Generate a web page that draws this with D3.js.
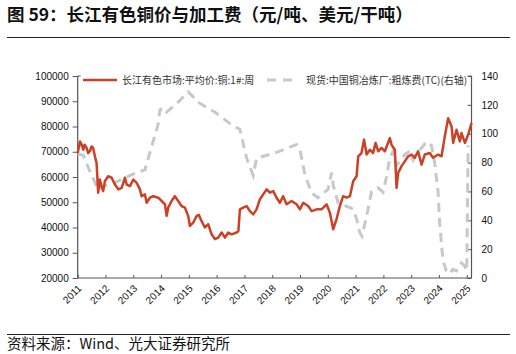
<!DOCTYPE html>
<html>
<head>
<meta charset="utf-8">
<script src="https://cdn.jsdelivr.net/npm/d3@7"></script>
<style>
  html, body { margin: 0; padding: 0; background: #fff; }
  svg { display: block; }
  text { font-family: "Liberation Sans", Arial, "Noto Sans CJK SC", sans-serif; }
  .cjk { font-family: "Noto Sans CJK SC", sans-serif; }
</style>
</head>
<body>
<svg id="chart" width="516" height="354"></svg>
<script>
// ---------- data ----------
const titleText = "图 59：长江有色铜价与加工费（元/吨、美元/干吨）";
const sourceText = "资料来源：Wind、光大证券研究所";
const seriesNames = ["长江有色市场:平均价:铜:1#:周", "现货:中国铜冶炼厂:粗炼费(TC)(右轴)"];
const yearTicks = ["2011","2012","2013","2014","2015","2016","2017","2018","2019","2020","2021","2022","2023","2024","2025"];
const leftTicks = [20000, 30000, 40000, 50000, 60000, 70000, 80000, 90000, 100000];
const rightTicks = [0, 20, 40, 60, 80, 100, 120, 140];

const copperDates = [
"2011-01-01","2011-01-31","2011-02-22","2011-03-15","2011-04-02","2011-04-28","2011-05-19","2011-06-10","2011-07-02","2011-07-23",
"2011-08-15","2011-09-06","2011-09-27","2011-10-19","2011-11-10","2011-12-02","2011-12-24","2012-02-06","2012-03-22","2012-05-05",
"2012-06-17","2012-08-01","2012-09-13","2012-10-06","2012-11-18","2013-01-01","2013-02-14","2013-03-29","2013-04-20","2013-06-03",
"2013-06-25","2013-08-08","2013-09-20","2013-11-25","2014-01-08","2014-02-21","2014-03-15","2014-04-05","2014-05-19","2014-07-01",
"2014-08-14","2014-09-27","2014-11-09","2014-12-23","2015-01-15","2015-02-27","2015-04-12","2015-05-12","2015-06-16","2015-07-30",
"2015-09-12","2015-10-27","2015-12-09","2016-01-22","2016-03-07","2016-04-20","2016-06-02","2016-07-16","2016-09-20","2016-10-13",
"2016-11-02","2016-12-15","2017-01-29","2017-03-13","2017-04-26","2017-06-09","2017-07-22","2017-09-04","2017-10-19","2017-12-01",
"2018-01-14","2018-02-27","2018-04-11","2018-05-24","2018-07-08","2018-09-12","2018-11-17","2018-12-31","2019-02-12","2019-04-18",
"2019-06-02","2019-08-07","2019-10-11","2019-12-16","2020-01-28","2020-03-12","2020-04-25","2020-06-08","2020-07-21","2020-09-04",
"2020-10-18","2020-11-30","2021-01-14","2021-02-04","2021-03-19","2021-04-22","2021-05-25","2021-07-07","2021-08-19","2021-09-20",
"2021-10-24","2021-12-08","2022-01-20","2022-03-26","2022-04-17","2022-05-31","2022-06-23","2022-07-14","2022-08-27","2022-10-09",
"2022-11-22","2023-01-06","2023-02-18","2023-04-02","2023-05-17","2023-06-29","2023-09-03","2023-10-16","2023-12-21","2024-02-04",
"2024-03-18","2024-05-01","2024-06-15","2024-07-06","2024-08-19","2024-10-02","2024-10-24","2024-12-07","2025-01-19","2025-03-04"];
const copperValues = [
69500,74100,72800,70800,72800,71500,69500,70200,72100,71500,
68200,65600,53800,59000,56400,54400,58300,60300,59700,57000,
55100,55700,59700,57000,56400,59000,57700,55100,52400,53100,
49800,51800,52400,51800,50500,49200,44600,47900,50500,52400,
50500,48500,47900,44600,40600,41900,44500,45000,42600,40000,
41300,37300,35400,36000,38000,36000,38000,37300,38000,38500,
47200,47900,48500,46500,45200,47200,51100,53100,55100,53800,
54400,51800,49800,52400,49200,50500,49200,47200,49800,48500,
46500,47200,47200,49200,45900,39300,43300,48500,52400,51800,
52400,58300,60300,68200,69500,74800,68900,70800,69500,73500,
70200,71500,70200,75400,72800,70800,55700,61600,64300,66200,
68200,68900,67600,70200,64900,68900,69500,67600,68900,68200,
76100,83300,80000,73500,78700,74100,77400,73500,76700,81400];

const tcDates = [
"2011-01-01","2011-03-15","2011-06-10","2011-09-27","2011-11-28","2012-04-08","2012-12-28","2013-06-03","2013-08-29","2013-11-21",
"2013-12-17","2014-01-26","2014-03-14","2014-07-27","2014-12-23","2015-05-26","2015-12-08","2016-06-25","2016-11-02","2017-01-30",
"2017-04-26","2017-06-09","2018-02-06","2018-11-17","2018-12-31","2019-03-07","2019-06-02","2019-08-26","2019-10-11","2020-01-04",
"2020-02-21","2020-03-14","2020-05-16","2020-10-19","2020-11-30","2021-01-14","2021-02-24","2021-03-24","2021-05-26","2021-07-30",
"2021-10-23","2021-12-28","2022-02-10","2022-03-26","2022-05-08","2022-06-22","2022-08-04","2022-10-08","2022-12-13","2023-01-26",
"2023-03-10","2023-05-16","2023-07-20","2023-09-24","2023-11-06","2023-12-20","2024-01-11","2024-02-23","2024-04-07","2024-05-22",
"2024-07-01","2024-08-18","2024-10-23","2024-12-06","2025-01-01","2025-01-18"];
const tcValues = [
86,85,74,61,63.5,65.5,72,75,91,106,
116.5,118,115,121,129,121,115,107,103,83,
71,83,86.7,92.4,89,71.5,59,55.6,58,61.4,
73,64,52,48.8,47.6,40.7,31.5,29,43,60,
62.5,59.5,70,83,87.8,78,81,85.5,87.8,82,
86.7,90,94.5,92,80,60,38,12,5,3,
6,5,10.5,8,5,92];

// ---------- layout ----------
const svg = d3.select("#chart");
const parse = d3.utcParse("%Y-%m-%d");
const m = { left: 77.7, right: 471.5, top: 76, bottom: 278 };
const RED = "#cc4125", GRAY = "#c8c8c8", AXIS = "#555";

const x = d3.scaleUtc().domain([parse("2011-01-01"), parse("2025-03-04")]).range([m.left, m.right]);
const yL = d3.scaleLinear().domain([20000, 100000]).range([m.bottom, m.top]);
const yR = d3.scaleLinear().domain([0, 140]).range([m.bottom, m.top]);

// title
svg.append("text").attr("class", "cjk").attr("x", 7).attr("y", 21)
  .attr("font-size", 17.5).attr("font-weight", "bold").attr("fill", "#111").text(titleText);
svg.append("line").attr("x1", 7).attr("x2", 510).attr("y1", 37.5).attr("y2", 37.5)
  .attr("stroke", "#222").attr("stroke-width", 1);

// source
svg.append("line").attr("x1", 7).attr("x2", 510).attr("y1", 334.5).attr("y2", 334.5)
  .attr("stroke", "#222").attr("stroke-width", 1);
svg.append("text").attr("class", "cjk").attr("x", 7).attr("y", 349)
  .attr("font-size", 14.5).attr("fill", "#111").text(sourceText);

// axes
const gL = svg.append("g").attr("transform", `translate(${m.left},0)`)
  .call(d3.axisLeft(yL).tickValues(leftTicks).tickSize(5).tickPadding(4).tickFormat(d3.format("d")));
const gR = svg.append("g").attr("transform", `translate(${m.right},0)`)
  .call(d3.axisRight(yR).tickValues(rightTicks).tickSize(-4).tickPadding(10).tickFormat(d3.format("d")));
const gX = svg.append("g").attr("transform", `translate(0,${m.bottom})`)
  .call(d3.axisBottom(x).tickValues(yearTicks.map(t => parse(t + "-01-01"))).tickSize(-3).tickFormat(d3.utcFormat("%Y")));

[gL, gR, gX].forEach(g => {
  g.select(".domain").attr("stroke", AXIS).attr("stroke-width", 1.2);
  g.selectAll(".tick line").attr("stroke", AXIS).attr("stroke-width", 1);
  g.selectAll("text").attr("fill", "#111").attr("font-family", "Liberation Sans, Arial, sans-serif");
});
gL.selectAll("text").attr("font-size", 10);
gR.selectAll("text").attr("font-size", 10).attr("text-anchor", "start");
gX.selectAll("text").attr("font-size", 10)
  .attr("text-anchor", "end").attr("dy", 0).attr("y", 0)
  .attr("transform", "translate(4,11) rotate(-45)");

// remove outer tick end stubs of domain path; draw small top stubs
gL.select(".domain").attr("d", `M0,${m.top}V${m.bottom}`);
gR.select(".domain").attr("d", `M0,${m.top}V${m.bottom}`);
gX.select(".domain").attr("d", `M${m.left},0H${m.right}`);
svg.append("line").attr("x1", m.left).attr("x2", m.left + 3).attr("y1", m.top).attr("y2", m.top).attr("stroke", AXIS);
svg.append("line").attr("x1", m.right - 3).attr("x2", m.right).attr("y1", m.top).attr("y2", m.top).attr("stroke", AXIS);

// lines
const tcData = tcDates.map((d, i) => ({ d: parse(d), v: tcValues[i] }));
const cuData = copperDates.map((d, i) => ({ d: parse(d), v: copperValues[i] }));

svg.append("path").datum(tcData)
  .attr("fill", "none").attr("stroke", GRAY).attr("stroke-width", 3).attr("stroke-dasharray", "9,6")
  .attr("d", d3.line().x(p => x(p.d)).y(p => yR(p.v)));
svg.append("path").datum(cuData)
  .attr("fill", "none").attr("stroke", RED).attr("stroke-width", 2.5).attr("stroke-linejoin", "round")
  .attr("d", d3.line().x(p => x(p.d)).y(p => yL(p.v)));

// legend
const lg = svg.append("g");
lg.append("line").attr("x1", 83).attr("x2", 117).attr("y1", 80).attr("y2", 80)
  .attr("stroke", RED).attr("stroke-width", 2.5);
lg.append("text").attr("class", "cjk").attr("x", 122).attr("y", 84).attr("font-size", 10).attr("fill", "#333").text(seriesNames[0]);
lg.append("line").attr("x1", 267).attr("x2", 292).attr("y1", 80).attr("y2", 80)
  .attr("stroke", GRAY).attr("stroke-width", 3).attr("stroke-dasharray", "9,7");
lg.append("text").attr("class", "cjk").attr("x", 306).attr("y", 84).attr("font-size", 10).attr("fill", "#333").text(seriesNames[1]);
</script>
</body>
</html>
